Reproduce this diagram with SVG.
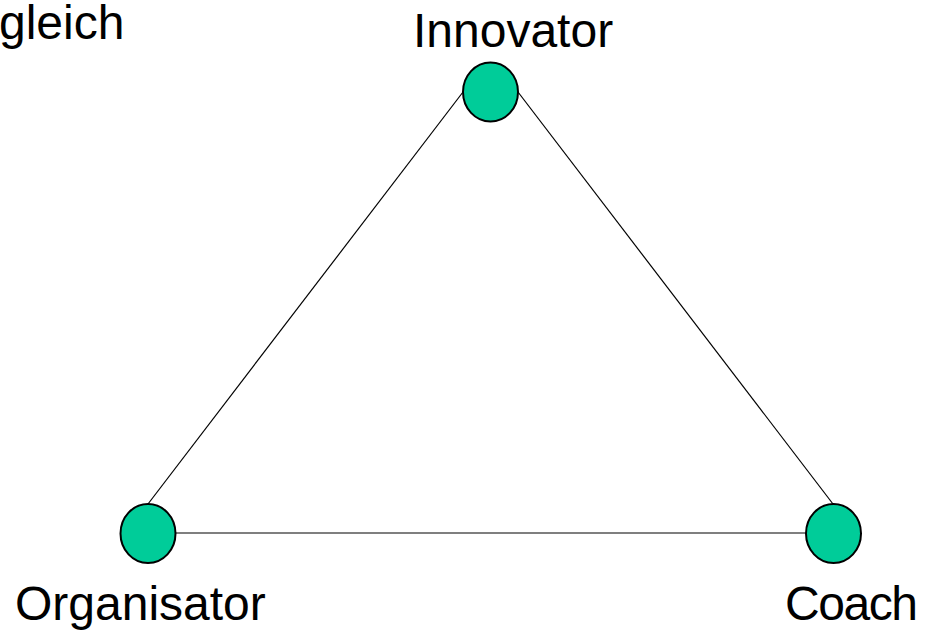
<svg xmlns="http://www.w3.org/2000/svg" width="928" height="630" viewBox="0 0 928 630">
<style>
.lbl{font-family:"Liberation Sans",Arial,sans-serif;font-size:48px;fill:#000}
.node{fill:#00CC99;stroke:#000;stroke-width:2}
.edge{stroke:#000;stroke-width:1.2;fill:none}
</style>
<rect width="928" height="630" fill="#fff"/>
<text class="lbl" x="-1" y="39">gleich</text>
<g id="connectors">
<line class="edge" x1="148" y1="504" x2="463" y2="92"/>
<line class="edge" x1="833" y1="504" x2="518" y2="92"/>
<line class="edge" x1="176" y1="533" x2="806" y2="533"/>
</g>
<g id="innovator">
<ellipse class="node" cx="490.5" cy="92" rx="27.5" ry="29.5"/>
<text class="lbl" x="413" y="47">Innovator</text>
</g>
<g id="organisator">
<ellipse class="node" cx="148" cy="533.5" rx="27.5" ry="29.5"/>
<text class="lbl" x="15" y="620">Organisator</text>
</g>
<g id="coach">
<ellipse class="node" cx="833.5" cy="533.5" rx="27.5" ry="29.5"/>
<text class="lbl" x="785" y="620" textLength="133">Coach</text>
</g>
</svg>
